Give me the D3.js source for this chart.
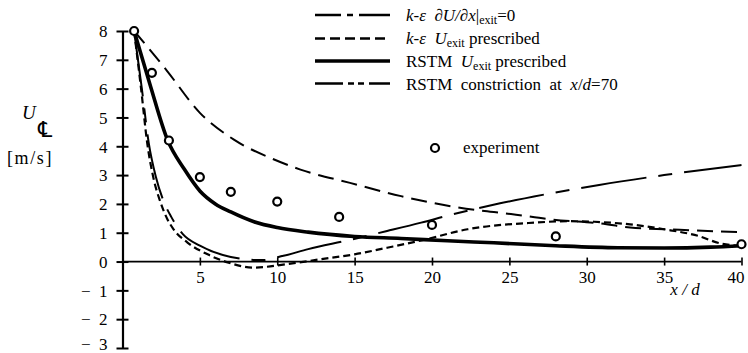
<!DOCTYPE html>
<html>
<head>
<meta charset="utf-8">
<script src="https://cdn.jsdelivr.net/npm/d3@7"></script>
<style>
  html, body { margin: 0; padding: 0; background: #fff; }
  svg { display: block; }
  svg text { font-family: "Liberation Serif", "Times New Roman", Times, serif; fill: #000; }
</style>
</head>
<body>
<svg id="chart" width="748" height="353"></svg>
<script>
// ---- data ----
const yTicks = [-3, -2, -1, 0, 1, 2, 3, 4, 5, 6, 7, 8];
const xTicks = [5, 10, 15, 20, 25, 30, 35, 40];

const expX = [0.75, 1.9, 3, 5, 7, 10, 14, 20, 28, 40];
const expY = [8, 6.55, 4.2, 2.93, 2.42, 2.08, 1.55, 1.27, 0.87, 0.6];

// k-eps dU/dx|exit = 0
const keGradX = [0.75, 1.25, 1.7, 2.15, 2.65, 3.15, 3.9, 5, 7, 9, 10.4, 12, 14.6, 17.1, 19.3, 21.2, 24.4, 27.5, 30.8, 35, 40];
const keGradY = [8, 6.0, 4.1, 2.95, 2.1, 1.55, 0.95, 0.55, 0.16, 0.05, 0.2, 0.43, 0.74, 1.06, 1.35, 1.62, 2.02, 2.35, 2.66, 3.0, 3.35];

// k-eps U_exit prescribed
const keExitX = [0.75, 1.2, 1.6, 2.0, 2.46, 2.9, 3.3, 4.2, 5.5, 6.8, 8.5, 10.6, 12.8, 15, 17.1, 19.3, 22.3, 26.6, 28.8, 30.5, 32.8, 35, 37.2, 38.7, 40];
const keExitY = [8, 6.0, 4.1, 2.9, 2.05, 1.47, 1.12, 0.66, 0.25, -0.03, -0.21, -0.09, 0.08, 0.25, 0.48, 0.73, 1.12, 1.35, 1.4, 1.38, 1.29, 1.12, 0.89, 0.62, 0.55];

// RSTM U_exit prescribed
const rsExitX = [0.75, 1.8, 2.9, 4, 5, 6, 7, 8.5, 10, 12, 15, 18, 21, 24, 28, 32, 35, 38, 40];
const rsExitY = [8, 6.1, 4.23, 3.2, 2.45, 2.0, 1.72, 1.38, 1.18, 1.02, 0.87, 0.8, 0.72, 0.65, 0.55, 0.48, 0.47, 0.5, 0.55];

// RSTM constriction at x/d = 70
const rsConX = [0.75, 2, 2.9, 5, 7.2, 9.8, 11.5, 14.7, 18, 21.2, 23.4, 25.1, 27.7, 30.9, 32.8, 36, 40];
const rsConY = [8, 7.2, 6.6, 5.16, 4.23, 3.54, 3.19, 2.73, 2.27, 1.92, 1.75, 1.65, 1.46, 1.32, 1.18, 1.1, 1.02];

// ---- layout ----
const svg = d3.select("#chart");
const x = d3.scaleLinear().domain([0, 40]).range([122.5, 741.5]);
const y = d3.scaleLinear().domain([-3, 8]).range([348, 31]);
const FONT = 17;
const SERIF = '"Liberation Serif", "Times New Roman", Times, serif';

// y axis
const yAxis = d3.axisLeft(y).tickValues(yTicks).tickSizeInner(6).tickSizeOuter(0).tickPadding(9)
  .tickFormat(d => d < 0 ? "\u2212\u2002" + (-d) : String(d));
const gy = svg.append("g").attr("transform", `translate(${x(0)},0)`).call(yAxis)
  .attr("font-family", SERIF).attr("font-size", FONT);
gy.select(".domain").attr("stroke", "#000").attr("stroke-width", 2.2);
gy.selectAll(".tick line").attr("x1", -6).attr("x2", 6).attr("stroke-width", 2);
gy.selectAll(".tick text").attr("dy", d => d === -3 ? "0.1em" : "0.34em");

// x axis
const xAxis = d3.axisBottom(x).tickValues(xTicks).tickSizeInner(4).tickSizeOuter(0).tickPadding(0);
const gx = svg.append("g").attr("transform", `translate(0,${y(0)})`).call(xAxis)
  .attr("font-family", SERIF).attr("font-size", FONT);
gx.select(".domain").attr("stroke", "#000").attr("stroke-width", 1.8)
  .attr("d", `M${x(0)},0H${x(40)}`);
gx.selectAll(".tick line").attr("y1", -4).attr("y2", 4).attr("stroke-width", 1.6);
gx.selectAll(".tick text").attr("dy", 0).attr("y", 21).attr("x", d => d === 40 ? -6 : 0);

svg.append("text").attr("x", 685).attr("y", 295).attr("font-size", FONT)
  .attr("text-anchor", "middle").attr("font-style", "italic").text("x / d");

// y label
svg.append("text").attr("x", 22).attr("y", 119).attr("font-size", 19).attr("font-style", "italic").text("U");
svg.append("text").attr("x", 38).attr("y", 137).attr("font-size", 22)
  .style("font-family", '"DejaVu Serif", "DejaVu Sans", serif').text("\u2104");
svg.append("text").attr("x", 7).attr("y", 164).attr("font-size", 18).attr("letter-spacing", 1.6).text("[m/s]");

// ---- curves ----
const line = d3.line().x(d => x(d[0])).y(d => y(d[1])).curve(d3.curveMonotoneX);
const zip = (a, b) => a.map((v, i) => [v, b[i]]);

const series = [
  { xs: rsConX, ys: rsConY, w: 2, dash: "16,8", ldash: "28,5,6,4,6,5,30" },
  { xs: keGradX, ys: keGradY, w: 2, dash: "66,12,14,12", ldash: "26,6,6,6,40" },
  { xs: keExitX, ys: keExitY, w: 2.2, dash: "7,4", ldash: "10,5" },
  { xs: rsExitX, ys: rsExitY, w: 3.6, dash: null, ldash: null },
];
series.forEach(s => {
  svg.append("path").attr("d", line(zip(s.xs, s.ys))).attr("fill", "none")
    .attr("stroke", "#000").attr("stroke-width", s.w)
    .attr("stroke-dasharray", s.dash).attr("stroke-linecap", "butt");
});

// experiment points
svg.append("g").selectAll("circle").data(zip(expX, expY)).join("circle")
  .attr("cx", d => x(d[0])).attr("cy", d => y(d[1])).attr("r", 4)
  .attr("fill", "#fff").attr("stroke", "#000").attr("stroke-width", 2.2);

// ---- legend ----
const lg = svg.append("g");
const legRows = [
  { yy: 15, s: series[1], w: 2.6 },
  { yy: 38.5, s: series[2], w: 2.6 },
  { yy: 61, s: series[3], w: 3.6 },
  { yy: 83.5, s: series[0], w: 2.6 },
];
legRows.forEach(r => {
  lg.append("line").attr("x1", 315).attr("x2", 390).attr("y1", r.yy).attr("y2", r.yy)
    .attr("stroke", "#000").attr("stroke-width", r.w).attr("stroke-dasharray", r.s.ldash);
});

function addText(yy, parts) {
  const t = lg.append("text").attr("x", 406).attr("y", yy).attr("font-size", FONT).attr("xml:space", "preserve");
  parts.forEach(p => {
    const ts = t.append("tspan").text(p.t);
    if (p.i) ts.attr("font-style", "italic");
    if (p.sub) ts.attr("font-size", 12).attr("dy", 3);
    if (p.up) ts.attr("dy", -3);
  });
}
addText(21, [{ t: "k", i: 1 }, { t: "-" }, { t: "\u03b5", i: 1 }, { t: "  " }, { t: "\u2202U/\u2202x", i: 1 }, { t: "|" }, { t: "exit", sub: 1 }, { t: "=0", up: 1 }]);
addText(44, [{ t: "k", i: 1 }, { t: "-" }, { t: "\u03b5", i: 1 }, { t: "  " }, { t: "U", i: 1 }, { t: "exit", sub: 1 }, { t: " prescribed", up: 1 }]);
addText(67, [{ t: "RSTM  " }, { t: "U", i: 1 }, { t: "exit", sub: 1 }, { t: " prescribed", up: 1 }]);
addText(89.5, [{ t: "RSTM  constriction  at  " }, { t: "x", i: 1 }, { t: "/" }, { t: "d", i: 1 }, { t: "=70" }]);

lg.append("circle").attr("cx", 435).attr("cy", 148).attr("r", 4)
  .attr("fill", "#fff").attr("stroke", "#000").attr("stroke-width", 2.2);
lg.append("text").attr("x", 463).attr("y", 153).attr("font-size", FONT).text("experiment");
</script>
</body>
</html>
